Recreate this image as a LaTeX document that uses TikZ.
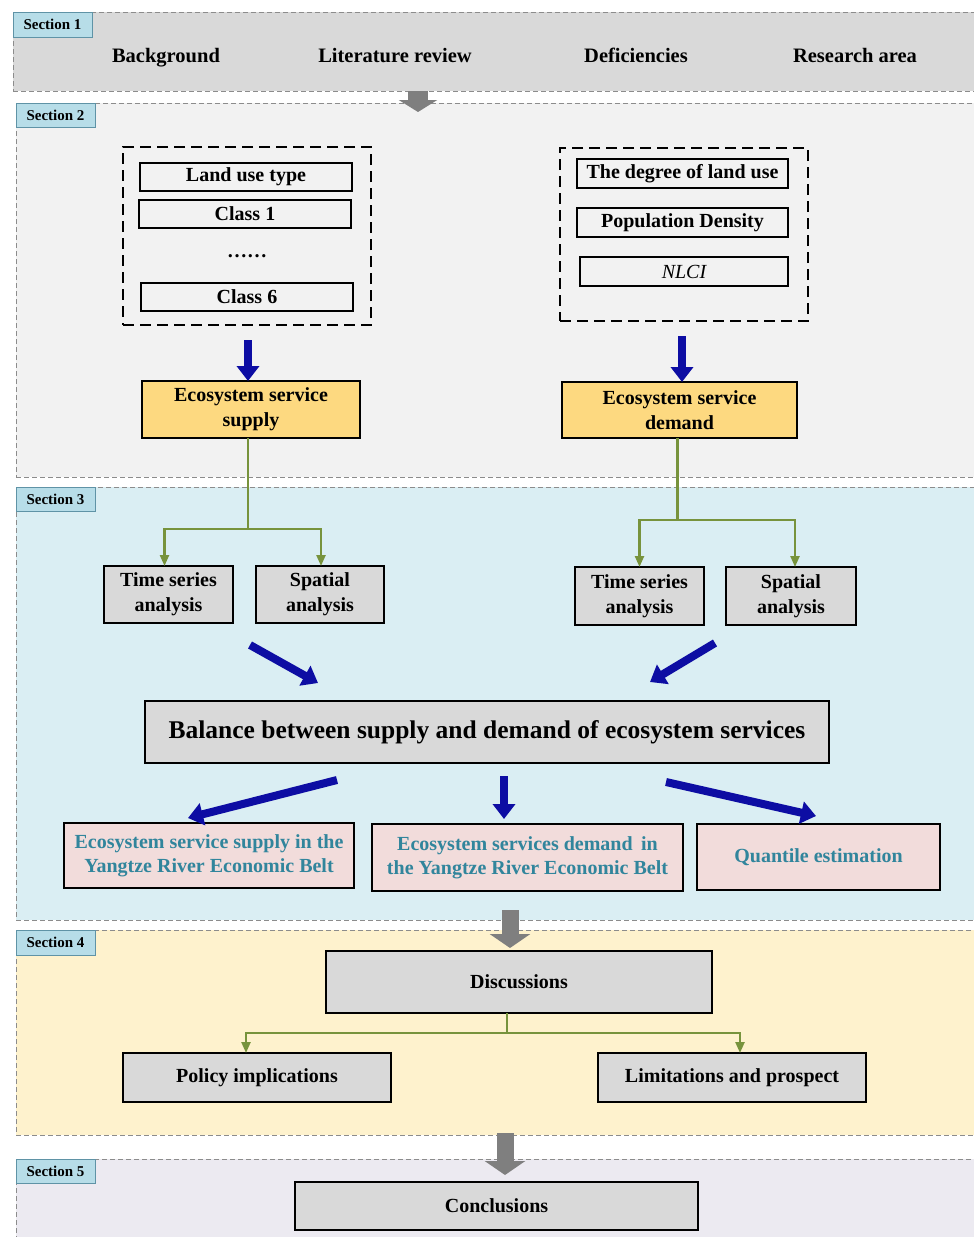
\documentclass[tikz,border=0pt]{standalone}
\usepackage{fontspec}
\setmainfont{Liberation Serif}
\usetikzlibrary{arrows.meta}
\definecolor{bandA}{HTML}{D9D9D9}
\definecolor{bandB}{HTML}{F2F2F2}
\definecolor{bandC}{HTML}{DAEEF3}
\definecolor{bandD}{HTML}{FEF2CD}
\definecolor{bandE}{HTML}{ECEAF1}
\definecolor{lblfill}{HTML}{B7DDE8}
\definecolor{lbldraw}{HTML}{5F93A6}
\definecolor{dashgray}{HTML}{8C8C8C}
\definecolor{boxgray}{HTML}{D9D9D9}
\definecolor{orangefill}{HTML}{FDD980}
\definecolor{pinkfill}{HTML}{F2DCDB}
\definecolor{tealtext}{HTML}{31859C}
\definecolor{arrowblue}{HTML}{0D0DA3}
\definecolor{arrowgray}{HTML}{7F7F7F}
\definecolor{linegreen}{HTML}{77933C}
\newcommand{\bx}[7]{%
  \pgfmathsetmacro{\bxw}{#4-#2}\pgfmathsetmacro{\bxh}{#5-#3}%
  \pgfmathsetmacro{\bxcx}{(#2+#4)/2}\pgfmathsetmacro{\bxcy}{(#3+#5)/2}%
  \node[#6, minimum width=\bxw pt, minimum height=\bxh pt] (#1) at (\bxcx,\bxcy) {#7};}
\tikzset{
  x=1pt, y=-1pt,
  every node/.style={inner sep=0pt, outer sep=0pt, align=center},
  band/.style={draw=dashgray, line width=1pt, dash pattern=on 5pt off 3pt},
  seclabel/.style={draw=lbldraw, fill=lblfill, line width=0.8pt, font=\fontsize{15}{17}\selectfont\bfseries},
  headtext/.style={anchor=base, font=\fontsize{20.5}{24}\selectfont\bfseries},
  dashbox/.style={draw=black, line width=2pt, dash pattern=on 11pt off 6pt},
  itembox/.style={draw=black, line width=2pt, font=\fontsize{20}{24}\selectfont\bfseries},
  orangebox/.style={draw=black, fill=orangefill, line width=2pt, font=\fontsize{20}{25}\selectfont\bfseries},
  graybox/.style={draw=black, fill=boxgray, line width=2pt, font=\fontsize{20}{25}\selectfont\bfseries},
  pinkbox/.style={draw=black, fill=pinkfill, line width=2pt, text=tealtext, font=\fontsize{20}{24}\selectfont\bfseries},
  blueblock/.style={draw=arrowblue, line width=8pt, -{Triangle[width=22pt,length=15pt]}},
  grayblock/.style={draw=arrowgray, line width=17pt, -{Triangle[width=40pt,length=14pt]}},
  gline/.style={draw=linegreen, line width=2.3pt},
  garrow/.style={gline, -{Triangle[width=9pt,length=11pt]}}
}
\begin{document}
\begin{tikzpicture}
\useasboundingbox (0,0) rectangle (974,1237);
\clip (0,0) rectangle (974,1237);
\fill[white] (0,0) rectangle (974,1237);

% section bands
\bx{s1}{13}{12}{995}{91}{band, fill=bandA}{}
\bx{s2}{16}{103}{995}{477}{band, fill=bandB}{}
\bx{s3}{16}{487}{995}{920}{band, fill=bandC}{}
\bx{s4}{16}{930}{995}{1135}{band, fill=bandD}{}
\bx{s5}{16}{1159}{995}{1260}{band, fill=bandE}{}

% section labels
\bx{l1}{13}{12}{92}{37}{seclabel}{Section 1}
\bx{l2}{16}{103}{95}{127}{seclabel}{Section 2}
\bx{l3}{16}{487}{95}{511}{seclabel}{Section 3}
\bx{l4}{16}{930}{95}{955}{seclabel}{Section 4}
\bx{l5}{16}{1159}{95}{1183}{seclabel}{Section 5}

% section 1 texts
\node[headtext] (bg) at (166,62) {Background};
\node[headtext] (lr) at (395,62) {Literature review};
\node[headtext] (df) at (636,62) {Deficiencies};
\node[headtext] (ra) at (855,62) {Research area};

% section 2
\bx{lbox}{123}{147}{371}{325}{dashbox}{}
\bx{lut}{140}{163}{352}{191}{itembox}{Land use type}
\bx{c1}{139}{200}{351}{228}{itembox}{Class 1}
\node[font=\fontsize{20}{24}\selectfont\bfseries] (dots) at (247,256) {……};
\bx{c6}{141}{283}{353}{311}{itembox}{Class 6}

\bx{rbox}{560}{148}{808}{321}{dashbox}{}
\bx{deg}{577}{159}{788}{188}{itembox}{The degree of land use}
\bx{pop}{577}{208}{788}{237}{itembox}{Population Density}
\bx{nlci}{580}{257}{788}{286}{itembox, font=\fontsize{20}{24}\selectfont\itshape}{NLCI}

\bx{sup}{142}{381}{360}{438}{orangebox}{Ecosystem service\\supply}
\bx{dem}{562}{382}{797}{438}{orangebox}{Ecosystem service\\demand}

\coordinate (ba1) at (248,340);
\coordinate (ba2) at (682,336);
\draw[blueblock] (ba1) -- (ba1 |- sup.north);
\draw[blueblock] (ba2) -- (ba2 |- dem.north);

% section 3
\bx{ts1}{104}{566}{233}{623}{graybox}{Time series\\analysis}
\bx{sp1}{256}{566}{384}{623}{graybox}{Spatial\\analysis}
\bx{ts2}{575}{567}{704}{625}{graybox}{Time series\\analysis}
\bx{sp2}{726}{567}{856}{625}{graybox}{Spatial\\analysis}

\path (sup.south) ++(-3,91) coordinate (j1);
\draw[gline] (sup.south -| j1) -- (j1);
\draw[garrow] (j1) -| ([xshift=-4pt]ts1.north);
\draw[garrow] (j1) -| ([xshift=1pt]sp1.north);
\path (dem.south) ++(-2,82) coordinate (j2);
\draw[gline] (dem.south -| j2) -- (j2);
\draw[garrow] (j2) -| (ts2.north);
\draw[garrow] (j2) -| ([xshift=4pt]sp2.north);

\bx{bal}{145}{701}{829}{763}{graybox, font=\fontsize{25.5}{30}\selectfont\bfseries}{Balance between supply and demand of ecosystem services}

\coordinate (da1) at (250,645);
\coordinate (da2) at (318,683);
\coordinate (da3) at (715,643);
\coordinate (da4) at (650,682);
\draw[blueblock] (da1) -- (da2);
\draw[blueblock] (da3) -- (da4);

\bx{pk1}{64}{823}{354}{888}{pinkbox}{Ecosystem service supply in the\\Yangtze River Economic Belt}
\bx{pk2}{372}{824}{683}{891}{pinkbox}{Ecosystem services demand\, in\\the Yangtze River Economic Belt}
\bx{pk3}{697}{824}{940}{890}{pinkbox}{Quantile estimation}

\coordinate (ea1) at (337,780);
\coordinate (ea2) at (188,818);
\coordinate (ea3) at (504,776);
\coordinate (ea4) at (504,819);
\coordinate (ea5) at (666,782);
\coordinate (ea6) at (816,816);
\draw[blueblock] (ea1) -- (ea2);
\draw[blueblock] (ea3) -- (ea4);
\draw[blueblock] (ea5) -- (ea6);

% section 4
\bx{dis}{326}{951}{712}{1013}{graybox}{Discussions}
\bx{pol}{123}{1053}{391}{1102}{graybox}{Policy implications}
\bx{lim}{598}{1053}{866}{1102}{graybox}{Limitations and prospect}
\coordinate (j3) at (507,1033);
\draw[gline] (dis.south -| j3) -- (j3);
\draw[garrow] (j3) -| ([xshift=-11pt]pol.north);
\draw[garrow] (j3) -| ([xshift=8pt]lim.north);

% section 5
\bx{con}{295}{1182}{698}{1230}{graybox}{Conclusions}

% gray block arrows
\coordinate (g1a) at (418,91);
\coordinate (g1b) at (418,112);
\coordinate (g2a) at (510,910);
\coordinate (g2b) at (510,948);
\coordinate (g3a) at (505,1133);
\coordinate (g3b) at (505,1175);
\draw[grayblock, line width=20pt, -{Triangle[width=38pt,length=12pt]}] (g1a) -- (g1b);
\draw[grayblock] (g2a) -- (g2b);
\draw[grayblock] (g3a) -- (g3b);
\end{tikzpicture}
\end{document}
